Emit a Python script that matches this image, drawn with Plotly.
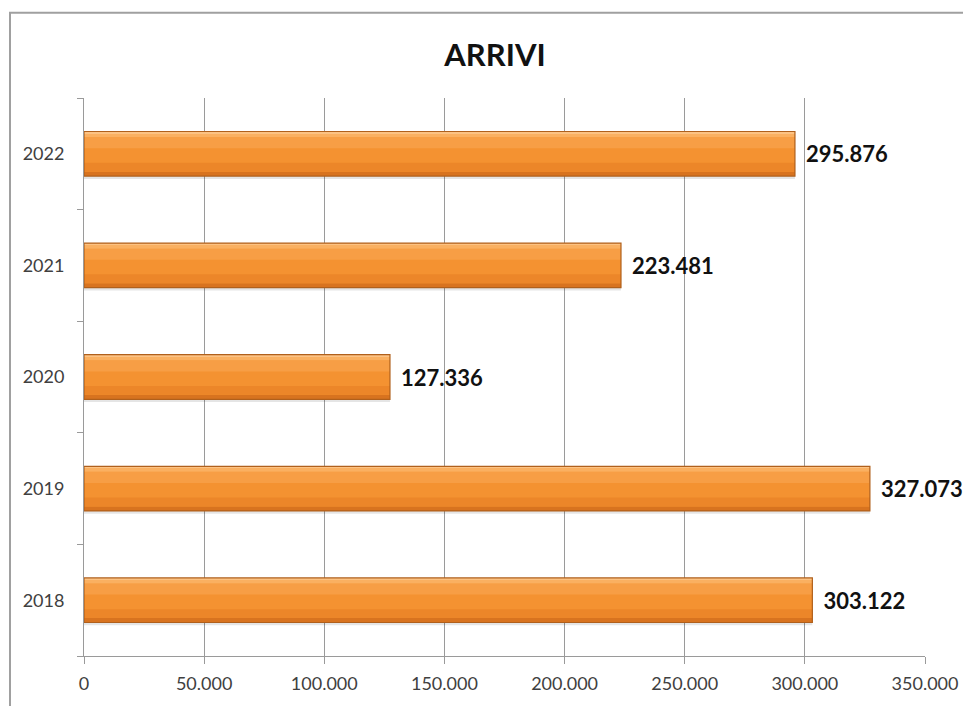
import plotly.graph_objects as go

years = ["2018", "2019", "2020", "2021", "2022"]
arrivi = [303122, 327073, 127336, 223481, 295876]
labels = ["303.122", "327.073", "127.336", "223.481", "295.876"]
tick_vals = [0, 50000, 100000, 150000, 200000, 250000, 300000, 350000]
tick_text = ["0", "50.000", "100.000", "150.000", "200.000", "250.000", "300.000", "350.000"]

FONT = "Lato"
W, H = 971, 698  # page body has an 8px margin; right side overflows the window like the original
fig = go.Figure()

def band(offset, width, color):
    fig.add_trace(go.Bar(y=years, x=arrivi, orientation="h", width=width, offset=offset,
                         marker=dict(color=color, line=dict(width=0)),
                         hoverinfo="skip", showlegend=False))

# shadow
band(-0.225, 0.4, "rgba(0,0,0,0.10)")
# gradient body (bottom to top)
band(-0.20, 0.40, "#F49231")
band(-0.20, 0.04, "#D8731F")
band(-0.16, 0.08, "#EC8629")
band(0.05, 0.10, "#F79E45")
band(0.15, 0.035, "#FAB061")
band(0.185, 0.015, "#FCC283")
# outline + labels
fig.add_trace(go.Bar(y=years, x=arrivi, orientation="h", width=0.4, offset=-0.2,
                     marker=dict(color="rgba(0,0,0,0)", line=dict(color="#B0601C", width=1.2)),
                     text=["\u00a0\u2009" + t for t in labels], textposition="outside",
                     cliponaxis=False,
                     textfont=dict(family=FONT, size=22, color="#111111", weight="bold"),
                     showlegend=False))

fig.update_layout(
    width=W, height=H,
    margin=dict(l=76, r=54, t=90, b=45),
    paper_bgcolor="white", plot_bgcolor="white",
    barmode="overlay",
    title=dict(text="<b>ARRIVI</b>", x=487 / W, xref="container", xanchor="center",
               y=1 - 47 / H, yref="container", yanchor="middle",
               font=dict(family=FONT, size=31, color="#111111")),
    xaxis=dict(range=[0, 350000], tickvals=tick_vals, ticktext=tick_text,
               showgrid=True, gridcolor="#9A9A9A", gridwidth=1,
               showline=True, linecolor="#9A9A9A", linewidth=1,
               ticks="outside", ticklen=7, tickcolor="#9A9A9A",
               ticklabelstandoff=4,
               tickfont=dict(family=FONT, size=18, color="#404040"),
               zeroline=False, fixedrange=True),
    yaxis=dict(type="category", categoryorder="array", categoryarray=years,
               showline=True, linecolor="#9A9A9A", linewidth=1,
               ticks="outside", ticklen=6, tickcolor="#9A9A9A", tickson="boundaries",
               ticklabelstandoff=15,
               tickfont=dict(family=FONT, size=18, color="#404040"),
               showgrid=False, zeroline=False, fixedrange=True),
    shapes=[dict(type="rect", xref="paper", yref="paper",
                 x0=(2 - 76) / 841, x1=1.2, y0=-0.3, y1=1 + (90 - 4) / 563,
                 line=dict(color="#A0A0A0", width=2), fillcolor="rgba(0,0,0,0)", layer="below")],
)

fig.write_html("out.html")
